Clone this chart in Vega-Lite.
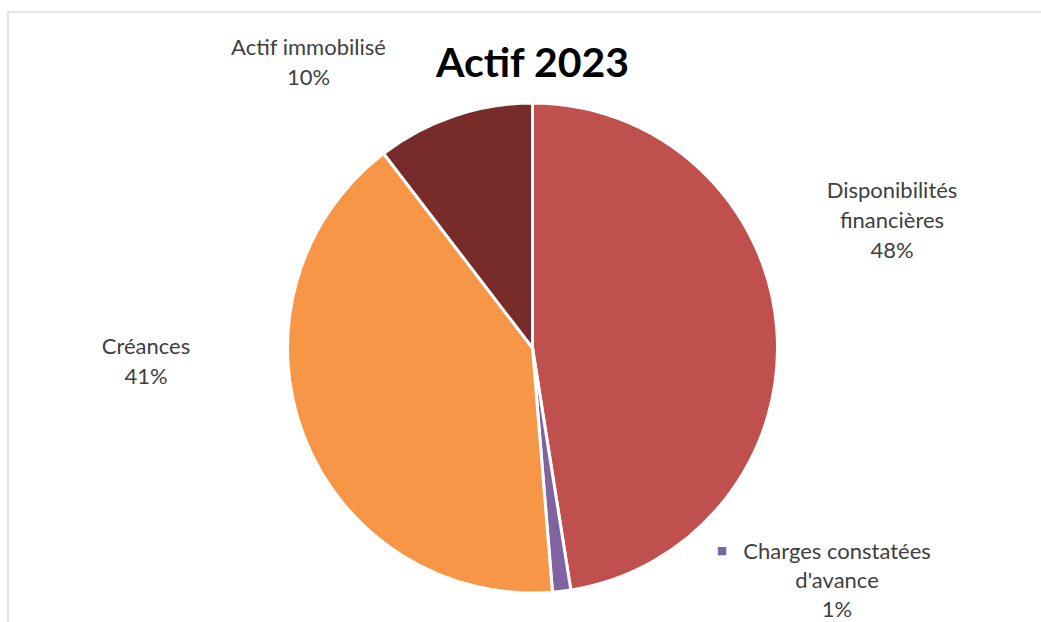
{
  "$schema": "https://vega.github.io/schema/vega-lite/v6.json",
  "width": 1049,
  "height": 672,
  "autosize": {"type": "none"},
  "padding": {"left": 8, "top": 12, "right": 0, "bottom": 0},
  "background": "white",
  "view": {"stroke": "#D9D9D9", "strokeWidth": 1.5},
  "title": {
    "text": "Actif 2023",
    "font": "Lato",
    "fontSize": 41,
    "fontWeight": "bold",
    "color": "#000000",
    "anchor": "middle",
    "offset": 0,
    "dy": 106,
    "baseline": "alphabetic"
  },
  "data": {
    "values": [
      {"category": "Disponibilités financières", "value": 47.5, "label": "Disponibilités\nfinancières\n48%"},
      {"category": "Charges constatées d'avance", "value": 1.2, "label": "Charges constatées\nd'avance\n1%"},
      {"category": "Créances", "value": 40.9, "label": "Créances\n41%"},
      {"category": "Actif immobilisé", "value": 10.4, "label": "Actif immobilisé\n10%"}
    ]
  },
  "transform": [{"stack": "value", "groupby": [], "as": ["start", "end"]}],
  "encoding": {
    "theta": {"field": "start", "type": "quantitative", "stack": null, "scale": {"domain": [0, 100]}}
  },
  "layer": [
    {
      "mark": {"type": "arc", "outerRadius": 245, "stroke": "white", "strokeWidth": 3},
      "encoding": {
        "theta2": {"field": "end"},
        "color": {
          "field": "category",
          "type": "nominal",
          "scale": {
            "domain": ["Disponibilités financières", "Charges constatées d'avance", "Créances", "Actif immobilisé"],
            "range": ["#C0504D", "#8064A2", "#F79646", "#772C2A"]
          },
          "legend": null
        }
      }
    },
    {
      "transform": [{"filter": "datum.category === 'Disponibilités financières'"}],
      "mark": {"type": "text", "radius": 380, "dx": 359.5, "dy": 230, "align": "center", "baseline": "alphabetic", "lineBreak": "\n", "lineHeight": 30, "font": "Lato", "fontSize": 22, "color": "#404040"},
      "encoding": {"text": {"field": "label"}}
    },
    {
      "transform": [{"filter": "datum.category === 'Charges constatées d\\'avance'"}],
      "mark": {"type": "text", "radius": 380, "dx": 245.1, "dy": -164, "align": "center", "baseline": "alphabetic", "lineBreak": "\n", "lineHeight": 29, "font": "Lato", "fontSize": 22, "color": "#404040"},
      "encoding": {"text": {"field": "label"}}
    },
    {
      "transform": [{"filter": "datum.category === 'Charges constatées d\\'avance'"}],
      "mark": {"type": "text", "text": "■", "radius": 380, "dx": 130.1, "dy": -172, "align": "center", "baseline": "middle", "font": "DejaVu Sans", "fontSize": 11, "color": "#8064A2"}
    },
    {
      "transform": [{"filter": "datum.category === 'Créances'"}],
      "mark": {"type": "text", "radius": 380, "dx": -417.5, "dy": -372.7, "align": "center", "baseline": "alphabetic", "lineBreak": "\n", "lineHeight": 30, "font": "Lato", "fontSize": 22, "color": "#404040"},
      "encoding": {"text": {"field": "label"}}
    },
    {
      "transform": [{"filter": "datum.category === 'Actif immobilisé'"}],
      "mark": {"type": "text", "radius": 380, "dx": 7, "dy": 8.5, "align": "center", "baseline": "alphabetic", "lineBreak": "\n", "lineHeight": 30, "font": "Lato", "fontSize": 22, "color": "#404040"},
      "encoding": {"text": {"field": "label"}}
    }
  ]
}
